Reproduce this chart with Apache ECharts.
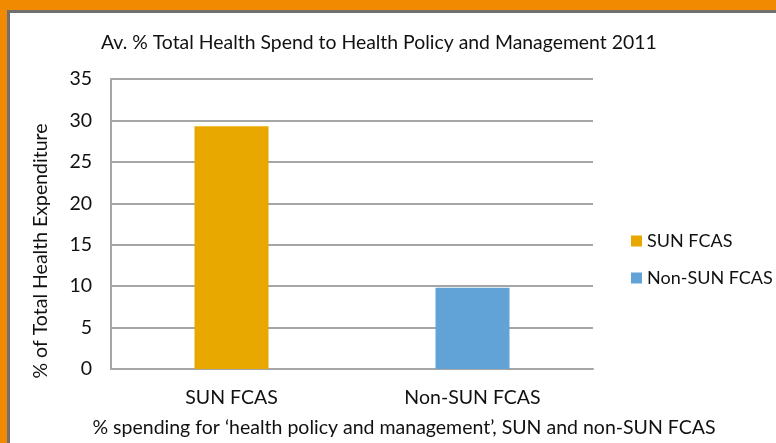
<!DOCTYPE html>
<html>
<head>
<meta charset="utf-8">
<script src="https://cdn.jsdelivr.net/npm/echarts@6/dist/echarts.min.js"></script>
<style>
  html, body { margin: 0; padding: 0; background: #fff; overflow: hidden; }
  #frame { width: 776px; height: 443px; box-sizing: border-box; border-top: 10px solid #F18A00; border-left: 7px solid #F18A00; }
  #inner { width: 100%; height: 100%; box-sizing: border-box; border-top: 3px solid #707070; border-left: 3px solid #707070; }
  #chart { position: absolute; left: 0; top: 0; width: 776px; height: 443px; }
</style>
</head>
<body>
<div id="frame"><div id="inner"></div></div>
<div id="chart"></div>
<script>
// categories and values
var categories = ['SUN FCAS', 'Non-SUN FCAS']
var sunValues = [29.3, '-']
var nonSunValues = ['-', 9.8]
var yTicks = [0, 5, 10, 15, 20, 25, 30, 35]

var fontFam = 'Lato'
var txt = '#111'

var chart = echarts.init(document.getElementById('chart'))
chart.setOption({
  animation: false,
  backgroundColor: 'transparent',
  title: {
    text: 'Av. % Total Health Spend to Health Policy and Management 2011',
    left: 101, top: 33, padding: 0,
    textStyle: { fontFamily: fontFam, fontSize: 19.4, fontWeight: 'normal', color: txt }
  },
  legend: {
    orient: 'vertical',
    left: 631, top: 232, padding: 0,
    itemWidth: 11, itemHeight: 11, itemGap: 19,
    icon: 'rect',
    textStyle: { fontFamily: fontFam, fontSize: 18, color: txt },
    data: ['SUN FCAS', 'Non-SUN FCAS']
  },
  grid: { left: 111, right: 183, top: 79, bottom: 67 },
  xAxis: {
    type: 'category',
    data: categories,
    name: '% spending for \u2018health policy and management\u2019, SUN and non-SUN FCAS',
    nameLocation: 'middle',
    nameGap: 49,
    // title sits right of the plot centre in the original
    nameTextStyle: { fontFamily: fontFam, fontSize: 19.5, color: txt, padding: [0, 0, 0, 104] },
    axisLine: { lineStyle: { color: '#A6A6A6', width: 2 } },
    axisTick: { show: false },
    axisLabel: { fontFamily: fontFam, fontSize: 19.5, color: txt, margin: 19 }
  },
  yAxis: {
    type: 'value',
    min: 0, max: yTicks[yTicks.length - 1], interval: 5,
    name: '% of Total Health Expenditure',
    nameLocation: 'middle',
    nameGap: 60,
    nameRotate: 90,
    nameTextStyle: { fontFamily: fontFam, fontSize: 19.5, color: txt, padding: [0, 54, 0, 0] },
    axisLine: { show: true, lineStyle: { color: '#A6A6A6', width: 2 } },
    axisTick: { show: false },
    axisLabel: { fontFamily: fontFam, fontSize: 19.5, color: txt, margin: 19 },
    splitLine: { lineStyle: { color: '#A6A6A6', width: 2 } }
  },
  series: [
    { name: 'SUN FCAS', type: 'bar', stack: 'all', data: sunValues, barWidth: 74, itemStyle: { color: '#E9A800' } },
    { name: 'Non-SUN FCAS', type: 'bar', stack: 'all', data: nonSunValues, barWidth: 74, itemStyle: { color: '#61A3D7' } }
  ]
})
</script>
</body>
</html>
